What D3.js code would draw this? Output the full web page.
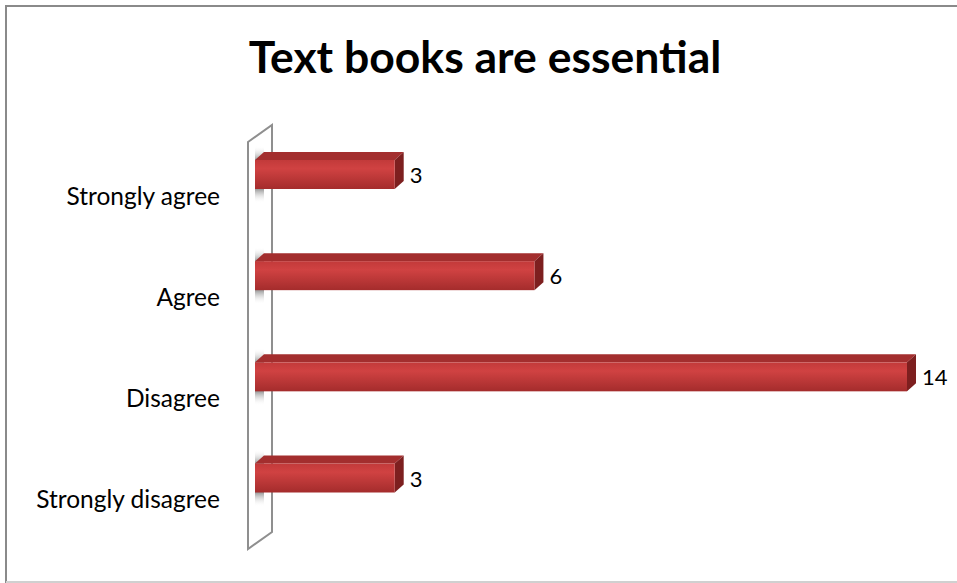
<!DOCTYPE html>
<html><head><meta charset="utf-8">
<script src="https://cdn.jsdelivr.net/npm/d3@7"></script>
<style>body{margin:0;background:#fff}svg{display:block}</style>
</head><body>
<script>
const categories = ["Strongly agree", "Agree", "Disagree", "Strongly disagree"];
const values = [3, 6, 14, 3];
const title = "Text books are essential";

const W = 957, H = 583;
const svg = d3.select("body").append("svg").attr("width", W).attr("height", H);
const defs = svg.append("defs");

const front = defs.append("linearGradient").attr("id","front").attr("x1",0).attr("y1",0).attr("x2",0).attr("y2",1);
front.append("stop").attr("offset","0%").attr("stop-color","#c23a3a");
front.append("stop").attr("offset","30%").attr("stop-color","#d04242");
front.append("stop").attr("offset","100%").attr("stop-color","#a42c2c");
const shadow = defs.append("linearGradient").attr("id","shadow").attr("x1",0).attr("y1",0).attr("x2",0).attr("y2",1);
shadow.append("stop").attr("offset","0%").attr("stop-color","#fff").attr("stop-opacity",0);
shadow.append("stop").attr("offset","25%").attr("stop-color","#8a8a8a").attr("stop-opacity",0.9);
shadow.append("stop").attr("offset","75%").attr("stop-color","#8a8a8a").attr("stop-opacity",0.9);
shadow.append("stop").attr("offset","100%").attr("stop-color","#fff").attr("stop-opacity",0);

// outer border
svg.append("rect").attr("x",6).attr("y",6).attr("width",W+10).attr("height",576)
  .attr("fill","#fff").attr("stroke","#8a8a8a").attr("stroke-width",2);
svg.append("line").attr("x1",6).attr("x2",W).attr("y1",582).attr("y2",582).attr("stroke","#d0d0d0").attr("stroke-width",2);

// title
svg.append("text").attr("x",485).attr("y",73).attr("text-anchor","middle")
  .attr("font-family","Lato, 'Open Sans', sans-serif").attr("font-weight","bold")
  .attr("font-size",44.5).attr("fill","#000").text(title);

const x = d3.scaleLinear().domain([0, 14]).range([255, 907]);
const y = d3.scalePoint().domain(categories).range([174.5, 478]);
const bh = 29, dx = 9, dy = 8;

// wall
const wallL = 248, wallR = 272;
svg.append("path")
  .attr("d", `M${wallL},142 L${wallR},125 L${wallR},532 L${wallL},549 Z`)
  .attr("fill","#fff").attr("stroke","#8f8f8f").attr("stroke-width",2);

// wall shadows behind bars
svg.selectAll("rect.sh").data(categories).join("rect").attr("class","sh")
  .attr("x", 255).attr("width", 9)
  .attr("y", d => y(d) - bh/2 - 14).attr("height", bh + 28)
  .attr("fill","url(#shadow)");

const bars = svg.selectAll("g.bar").data(categories.map((c,i)=>({c, v: values[i]}))).join("g").attr("class","bar");
// top face
bars.append("path").attr("d", d => {
  const x0 = x(0), x1 = x(d.v), t = y(d.c) - bh/2;
  return `M${x0},${t} L${x0+dx},${t-dy} L${x1+dx},${t-dy} L${x1},${t} Z`;
}).attr("fill","#a32e2e");
// end face
bars.append("path").attr("d", d => {
  const x1 = x(d.v), t = y(d.c) - bh/2, b = t + bh;
  return `M${x1},${t} L${x1+dx},${t-dy} L${x1+dx},${b-dy} L${x1},${b} Z`;
}).attr("fill","#7d1f1f");
// front face
bars.append("rect").attr("x", x(0)).attr("y", d => y(d.c) - bh/2)
  .attr("width", d => x(d.v) - x(0)).attr("height", bh).attr("fill","url(#front)");

// value labels
bars.append("text").attr("x", d => x(d.v) + dx + 6).attr("y", d => y(d.c) + 3)
  .attr("dominant-baseline","middle").attr("font-family","Lato, 'Open Sans', sans-serif")
  .attr("font-size",22).attr("fill","#000").text(d => d.v);

// category labels
svg.selectAll("text.cat").data(categories).join("text").attr("class","cat")
  .attr("x", 220).attr("y", d => y(d) + 24).attr("text-anchor","end")
  .attr("dominant-baseline","middle").attr("font-family","Lato, 'Open Sans', sans-serif")
  .attr("font-size",24.5).attr("fill","#000").text(d => d);
</script>
</body></html>
